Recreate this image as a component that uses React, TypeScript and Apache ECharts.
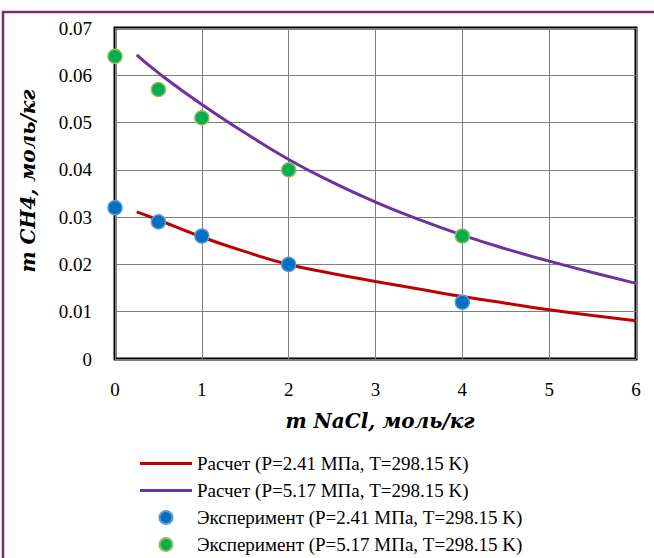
import React, { useEffect, useRef } from "react";
import * as echarts from "echarts";

const calcX = [0.25, 0.5, 1, 1.5, 2, 2.5, 3, 3.5, 4, 4.5, 5, 5.5, 6];
const calcLow = [0.0311, 0.0294, 0.0258, 0.0227, 0.02, 0.0181, 0.0164, 0.0148, 0.0132, 0.0118, 0.0104, 0.0092, 0.0081];
const calcHigh = [0.0643, 0.0605, 0.0538, 0.0478, 0.0422, 0.0374, 0.0332, 0.0295, 0.0262, 0.0233, 0.0207, 0.0183, 0.016];
const expX = [0, 0.5, 1, 2, 4];
const expLow = [0.032, 0.029, 0.026, 0.02, 0.012];
const expHigh = [0.064, 0.057, 0.051, 0.04, 0.026];
const seriesNames = [
  "Расчет (P=2.41 МПа, T=298.15 K)",
  "Расчет (P=5.17 МПа, T=298.15 K)",
  "Эксперимент (P=2.41 МПа, T=298.15 K)",
  "Эксперимент (P=5.17 МПа, T=298.15 K)",
];
const xTitle = "m NaCl, моль/кг";
const yTitle = "m CH4, моль/кг";

const FONT = "'Liberation Serif', 'Times New Roman', serif";
const TITLE_FONT = "'DejaVu Serif', serif";
const LINE_ICON = "path://M0,0 L52,0 L52,3 L0,3 Z";

export default function App() {
  const ref = useRef<HTMLDivElement>(null);
  useEffect(() => {
    if (!ref.current) return;
    const chart = echarts.init(ref.current, null, { renderer: "svg" });
    const pairs = (xs: number[], ys: number[]) => xs.map((x, i) => [x, ys[i]]);
    chart.setOption({
      animation: false,
      backgroundColor: "#ffffff",
      textStyle: { fontFamily: FONT },
      grid: {
        left: 115,
        right: 18,
        top: 28,
        bottom: 199,
        show: true,
        borderColor: "#000000",
        borderWidth: 3,
        backgroundColor: "transparent",
      },
      xAxis: {
        type: "value",
        min: 0,
        max: 6,
        interval: 1,
        axisLine: { show: false },
        axisTick: { show: false },
        splitLine: { show: true, lineStyle: { color: "#7f7f7f", width: 1 } },
        axisLabel: { color: "#000", fontSize: 19, fontFamily: FONT, margin: 21 },
      },
      yAxis: {
        type: "value",
        min: 0,
        max: 0.07,
        interval: 0.01,
        axisLine: { show: false },
        axisTick: { show: false },
        splitLine: { show: true, lineStyle: { color: "#7f7f7f", width: 1 } },
        axisLabel: {
          color: "#000",
          fontSize: 19,
          fontFamily: FONT,
          margin: 23,
          formatter: (v: number) => (v === 0 ? "0" : v.toFixed(2)),
        },
      },
      legend: {
        orient: "vertical",
        left: 140,
        top: 454,
        padding: 0,
        itemWidth: 52,
        itemHeight: 13,
        itemGap: 8,
        symbolKeepAspect: true,
        data: [
          { name: seriesNames[0], icon: LINE_ICON },
          { name: seriesNames[1], icon: LINE_ICON },
          { name: seriesNames[2], icon: "circle" },
          { name: seriesNames[3], icon: "circle" },
        ],
        textStyle: { fontFamily: FONT, fontSize: 19, color: "#000" },
      },
      graphic: [
        {
          type: "rect",
          shape: { x: 3, y: 12, width: 700, height: 600 },
          style: { fill: "none", stroke: "#7b2c6e", lineWidth: 2.5 },
          silent: true,
        },
        {
          type: "text",
          x: 380,
          y: 421,
          style: {
            text: xTitle,
            font: `italic bold 20px ${TITLE_FONT}`,
            fill: "#000",
            textAlign: "center",
            textVerticalAlign: "middle",
          },
        },
        {
          type: "text",
          x: 28,
          y: 181,
          rotation: Math.PI / 2,
          style: {
            text: yTitle,
            font: `italic bold 20px ${TITLE_FONT}`,
            fill: "#000",
            textAlign: "center",
            textVerticalAlign: "middle",
          },
        },
      ],
      series: [
        {
          name: seriesNames[0],
          type: "line",
          smooth: true,
          symbol: "none",
          data: pairs(calcX, calcLow),
          lineStyle: { color: "#c00000", width: 3 },
          itemStyle: { color: "#c00000" },
          z: 2,
        },
        {
          name: seriesNames[1],
          type: "line",
          smooth: true,
          symbol: "none",
          data: pairs(calcX, calcHigh),
          lineStyle: { color: "#7030a0", width: 3 },
          itemStyle: { color: "#7030a0" },
          z: 2,
        },
        {
          name: seriesNames[2],
          type: "scatter",
          symbol: "circle",
          symbolSize: 14,
          data: pairs(expX, expLow),
          itemStyle: { color: "#0070c0", borderColor: "#5b9bd5", borderWidth: 1.5, opacity: 1 },
          z: 3,
        },
        {
          name: seriesNames[3],
          type: "scatter",
          symbol: "circle",
          symbolSize: 14,
          data: pairs(expX, expHigh),
          itemStyle: { color: "#00b050", borderColor: "#9bbb59", borderWidth: 1.5, opacity: 1 },
          z: 3,
        },
      ],
    });
    return () => chart.dispose();
  }, []);
  return (
    <div
      ref={ref}
      style={{ position: "fixed", left: 0, top: 0, width: 654, height: 558 }}
    />
  );
}
